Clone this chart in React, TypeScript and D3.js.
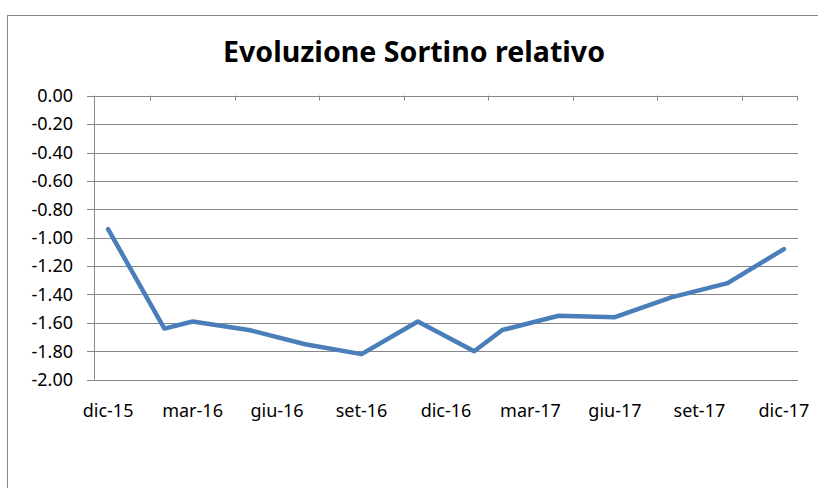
import React from 'react';
import * as d3 from 'd3';

// points (month index from dic-15) and values
const pointMonths = [0, 2, 3, 5, 7, 9, 11, 13, 14, 16, 18, 20, 22, 24];
const sortinoValues = [-0.94, -1.64, -1.59, -1.65, -1.75, -1.82, -1.59, -1.8, -1.65, -1.55, -1.56, -1.42, -1.32, -1.08];
const tickMonths = [0, 3, 6, 9, 12, 15, 18, 21, 24];
const tickLabels = ['dic-15', 'mar-16', 'giu-16', 'set-16', 'dic-16', 'mar-17', 'giu-17', 'set-17', 'dic-17'];
const yTicks = [0, -0.2, -0.4, -0.6, -0.8, -1.0, -1.2, -1.4, -1.6, -1.8, -2.0];

const W = 818;
const H = 488;
const FONT = "'Noto Sans', sans-serif";

// hyphen as minus sign, like the original
const fmt = d3.formatLocale({ decimal: '.', thousands: ',', grouping: [3], currency: ['', ''], minus: '-' }).format('.2f');

export default function App() {
  const x = d3.scaleLinear().domain([-0.5, 24.5]).range([94, 798]);
  const y = d3.scaleLinear().domain([0, -2]).range([95.7, 379.7]);

  const line = d3.line<number>()
    .x((d, i) => x(pointMonths[i]))
    .y(d => y(d));

  const gray = '#868686';
  // tick marks between the 3-month groups
  const boundaryTicks = tickMonths.slice(1).map(m => m - 1.5);

  return (
    <svg width={W} height={H} style={{ position: 'absolute', left: 0, top: 0, background: '#fff' }}>
      <rect x={7.5} y={15.5} width={W} height={H} fill="none" stroke={gray} />
      <text x={414} y={62} textAnchor="middle" fontFamily={FONT} fontWeight="bold" fontSize={29}
        textLength={382} lengthAdjust="spacingAndGlyphs" fill="#000">
        Evoluzione Sortino relativo
      </text>

      {/* gridlines */}
      {yTicks.map(t => (
        <line key={t} x1={87} x2={798} y1={Math.round(y(t)) + 0.5} y2={Math.round(y(t)) + 0.5} stroke={gray} strokeWidth={1} />
      ))}
      {/* vertical axis */}
      <line x1={94.5} x2={94.5} y1={y(0)} y2={y(-2)} stroke={gray} />
      {/* category ticks on horizontal axis (crosses at 0) */}
      {boundaryTicks.map(m => (
        <line key={m} x1={Math.round(x(m)) + 0.5} x2={Math.round(x(m)) + 0.5} y1={y(0)} y2={y(0) + 5} stroke={gray} />
      ))}
      <line x1={797.5} x2={797.5} y1={y(0)} y2={y(0) + 5} stroke={gray} />

      {yTicks.map(t => (
        <text key={t} x={73} y={y(t) + 6.3} textAnchor="end" fontFamily={FONT} fontSize={18} fill="#000">
          {fmt(t)}
        </text>
      ))}
      {tickMonths.map((m, i) => (
        <text key={m} x={x(m)} y={417} textAnchor="middle" fontFamily={FONT} fontSize={18} fill="#000">
          {tickLabels[i]}
        </text>
      ))}

      <path d={line(sortinoValues) || ''} fill="none" stroke="#4a7ebb" strokeWidth={4.5} strokeLinejoin="round" strokeLinecap="round" />
    </svg>
  );
}
